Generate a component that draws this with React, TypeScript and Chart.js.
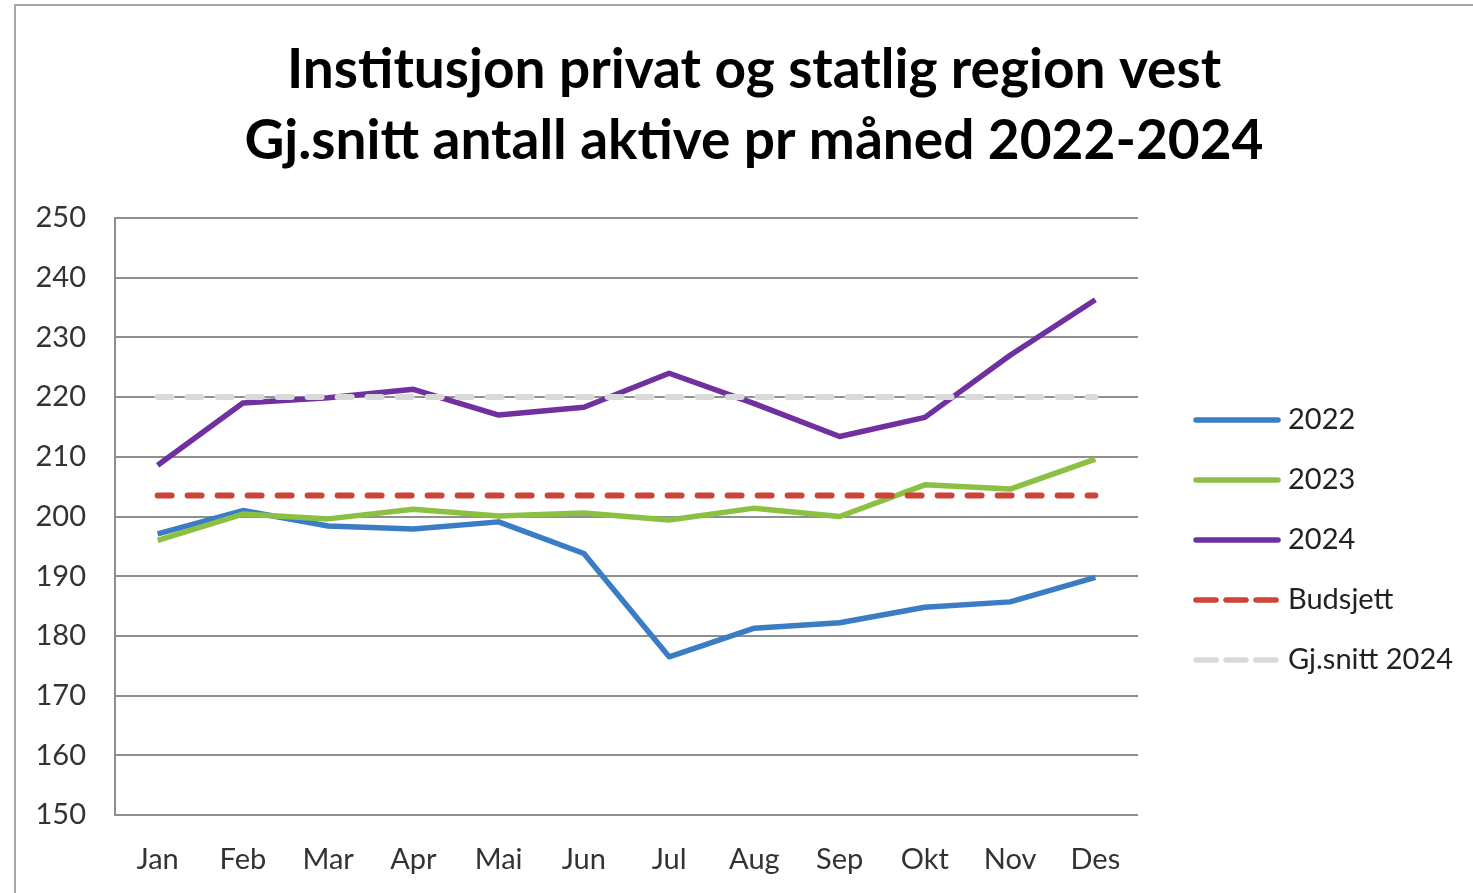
import React, { useEffect, useRef } from "react";
import { Chart, registerables } from "chart.js";

Chart.register(...registerables);

const titleLines = [
  "Institusjon privat og statlig region vest",
  "Gj.snitt antall aktive pr måned 2022-2024",
];
const months = ["Jan", "Feb", "Mar", "Apr", "Mai", "Jun", "Jul", "Aug", "Sep", "Okt", "Nov", "Des"];
const values2022 = [197.1, 201.0, 198.4, 197.9, 199.1, 193.8, 176.5, 181.3, 182.2, 184.8, 185.7, 189.8];
const values2023 = [196.0, 200.4, 199.6, 201.2, 200.1, 200.6, 199.4, 201.4, 200.0, 205.3, 204.6, 209.6];
const values2024 = [208.6, 219.0, 219.9, 221.3, 217.0, 218.3, 224.0, 218.9, 213.4, 216.6, 227.0, 236.3];
const budsjett = [203.5, 203.5, 203.5, 203.5, 203.5, 203.5, 203.5, 203.5, 203.5, 203.5, 203.5, 203.5];
const snitt2024 = [220.0, 220.0, 220.0, 220.0, 220.0, 220.0, 220.0, 220.0, 220.0, 220.0, 220.0, 220.0];
const seriesNames = ["2022", "2023", "2024", "Budsjett", "Gj.snitt 2024"];
const seriesColors = ["#3b7dc4", "#8cc043", "#7030a0", "#cd4338", "#d9d9d9"];
const yMin = 150;
const yMax = 250;
const yStep = 10;

const FONT = "Lato, 'Open Sans', sans-serif";

export default function App() {
  const canvasRef = useRef<HTMLCanvasElement | null>(null);

  useEffect(() => {
    const canvas = canvasRef.current;
    if (!canvas) return;

    const titlePlugin = {
      id: "customTitle",
      afterDraw(chart: any) {
        const ctx = chart.ctx;
        ctx.save();
        ctx.fillStyle = "#000000";
        ctx.font = `bold 55px ${FONT}`;
        ctx.textAlign = "center";
        ctx.textBaseline = "middle";
        ctx.fillText(titleLines[0], 754, 70);
        ctx.fillText(titleLines[1], 754, 141);
        ctx.restore();
      },
    };

    const legendPlugin = {
      id: "customLegend",
      afterDraw(chart: any) {
        const ctx = chart.ctx;
        ctx.save();
        chart.data.datasets.forEach((ds: any, i: number) => {
          const y = 420 + 60 * i;
          ctx.beginPath();
          ctx.strokeStyle = ds.borderColor;
          ctx.lineWidth = 5.5;
          ctx.lineCap = "round";
          ctx.setLineDash(ds.borderDash && ds.borderDash.length ? [20, 10] : []);
          ctx.moveTo(1196, y);
          ctx.lineTo(1278, y);
          ctx.stroke();
          ctx.setLineDash([]);
          ctx.fillStyle = "#222222";
          ctx.font = `29px ${FONT}`;
          ctx.textAlign = "left";
          ctx.textBaseline = "middle";
          ctx.fillText(ds.label, 1288, y);
        });
        ctx.restore();
      },
    };

    const dataArrays = [values2022, values2023, values2024, budsjett, snitt2024];
    const chart = new Chart(canvas, {
      type: "line",
      data: {
        labels: months,
        datasets: dataArrays.map((d, i) => ({
          label: seriesNames[i],
          data: d,
          borderColor: seriesColors[i],
          backgroundColor: seriesColors[i],
          borderWidth: i >= 3 ? 6 : 5.5,
          borderDash: i >= 3 ? [14, 16] : [],
          borderCapStyle: i >= 3 ? "round" : "butt",
          borderJoinStyle: "round",
          pointRadius: 0,
          tension: 0,
          fill: false,
          order: 4 - i,
        })),
      } as any,
      options: {
        animation: false,
        responsive: false,
        events: [],
        layout: { padding: { top: 218, right: 335, bottom: 0, left: 0 } },
        plugins: {
          legend: { display: false },
          title: { display: false },
          tooltip: { enabled: false },
        },
        scales: {
          x: {
            offset: true,
            grid: { display: false, drawTicks: false },
            border: { display: false },
            ticks: {
              padding: 27,
              color: "#333333",
              font: { family: FONT, size: 29 },
              maxRotation: 0,
            },
            afterFit(scale: any) {
              scale.height = 78;
            },
          },
          y: {
            min: yMin,
            max: yMax,
            grid: { color: "#8f8f8f", lineWidth: 2, drawTicks: false },
            border: { display: true, color: "#8f8f8f", width: 2 },
            ticks: {
              stepSize: yStep,
              padding: 29,
              color: "#333333",
              font: { family: FONT, size: 29 },
            },
            afterFit(scale: any) {
              scale.width = 115;
            },
          },
        },
      } as any,
      plugins: [titlePlugin, legendPlugin],
    });

    return () => {
      chart.destroy();
    };
  }, []);

  return (
    <div
      style={{
        position: "absolute",
        left: 0,
        top: 0,
        width: 1473,
        height: 893,
        background: "#ffffff",
        overflow: "hidden",
      }}
    >
      <div
        style={{
          position: "absolute",
          left: 14,
          top: 4,
          width: 1500,
          height: 950,
          border: "2px solid #a6a6a6",
          boxSizing: "border-box",
        }}
      />
      <canvas
        ref={canvasRef}
        width={1473}
        height={893}
        style={{ position: "absolute", left: 0, top: 0, display: "block" }}
      />
    </div>
  );
}
